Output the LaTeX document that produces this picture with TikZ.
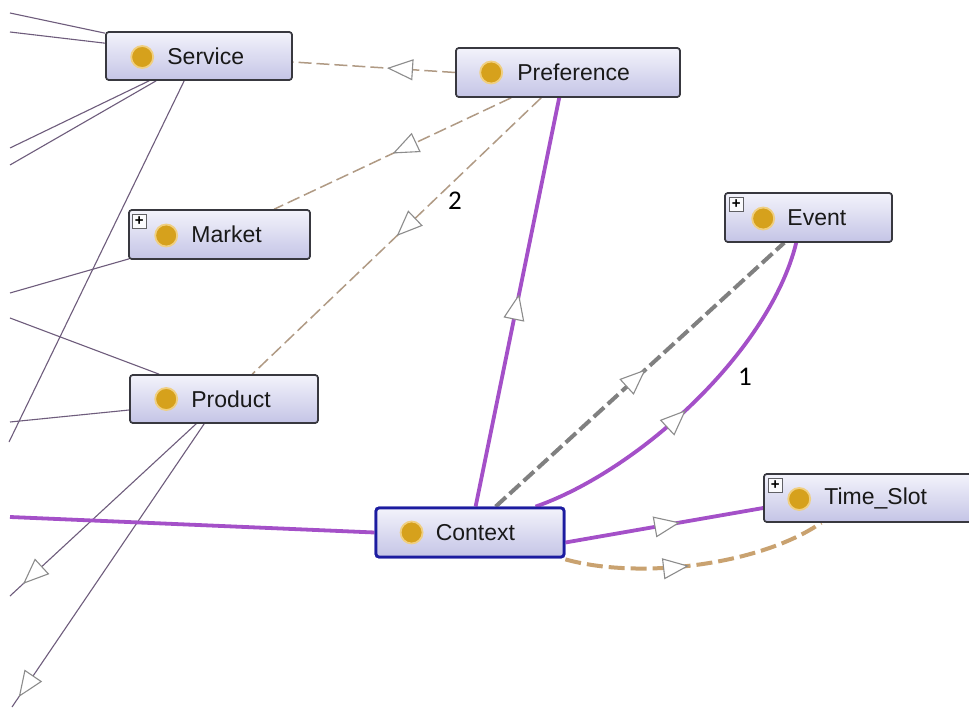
\documentclass[tikz,border=0pt]{standalone}
\usepackage{fontspec}
\setmainfont{Liberation Sans}
\newfontfamily\numfont{Carlito}
\usetikzlibrary{arrows.meta,decorations.markings}

\definecolor{boxline}{HTML}{38383F}
\definecolor{boxtop}{HTML}{F3F3FB}
\definecolor{boxbot}{HTML}{C4C4E6}
\definecolor{ctxline}{HTML}{1C1CA0}
\definecolor{dotfill}{HTML}{D6A11C}
\definecolor{dotring}{HTML}{F0CF80}
\definecolor{thinline}{HTML}{6E5C7C}
\definecolor{purpleline}{HTML}{A450C8}
\definecolor{tanthin}{HTML}{B09A84}
\definecolor{tanthick}{HTML}{C9A270}
\definecolor{grayline}{HTML}{808080}
\definecolor{headline}{HTML}{8C8C8C}

\tikzset{
  openhead/.tip={Triangle[length=26pt,width=21pt,fill=white,color=headline,line width=1.1pt]},
  cls/.style={rectangle, rounded corners=3pt, draw=boxline, line width=1.6pt,
    top color=boxtop, bottom color=boxbot, inner sep=0pt},
  ctx/.style={cls, draw=ctxline, line width=2.8pt},
  dot/.style={circle, fill=dotfill, draw=dotring, line width=1.8pt, minimum size=22pt, inner sep=0pt},
  clsname/.style={anchor=west, inner sep=0pt, font=\fontsize{23}{27}\selectfont, text=black!90},
  plusbox/.style={rectangle, draw=boxline!80, fill=white!92!boxbot, line width=0.8pt,
    minimum size=14pt, inner sep=0pt, font=\bfseries\fontsize{15}{15}\selectfont},
  midhead/.style={postaction={decorate},
    decoration={markings, mark=at position #1 with {\arrow{openhead}}}},
  linkthin/.style={draw=thinline, line width=1.1pt},
  linkpurple/.style={draw=purpleline, line width=3.8pt},
  linktan/.style={draw=tanthin, line width=1.5pt, dash pattern=on 13pt off 5pt},
  linkgray/.style={draw=grayline, line width=4pt, dash pattern=on 14pt off 5pt},
  linktanthick/.style={draw=tanthick, line width=4pt, dash pattern=on 16pt off 6pt},
  numlabel/.style={inner sep=0pt, font=\numfont\fontsize{27}{30}\selectfont}
}

\begin{document}
\begin{tikzpicture}[x=1pt,y=-1pt]
\clip (0,0) rectangle (969,708);
\fill[white] (0,0) rectangle (969,708);

% class boxes (placed first so the connectors can use their anchors)
\path
  (199,56)    node[cls, minimum width=186pt, minimum height=48pt] (service) {}
  (568,72.5)  node[cls, minimum width=224pt, minimum height=49pt] (pref) {}
  (219.5,234.5) node[cls, minimum width=181pt, minimum height=49pt] (market) {}
  (808.5,217.5) node[cls, minimum width=167pt, minimum height=49pt] (event) {}
  (224,399)   node[cls, minimum width=188pt, minimum height=48pt] (product) {}
  (470,532.5) node[ctx, minimum width=188pt, minimum height=49pt] (context) {}
  (870,498)   node[cls, minimum width=212pt, minimum height=48pt] (timeslot) {};

% loose ends of the links that leave the view
\coordinate (l1) at (10,13);
\coordinate (l2) at (10,32);
\coordinate (l3) at (10,148);
\coordinate (l4) at (10,165);
\coordinate (l5) at (9,442);
\coordinate (l6) at (10,293);
\coordinate (l7) at (10,318);
\coordinate (l8) at (10,422);
\coordinate (l9) at (10,596);
\coordinate (l10) at (12,707);
\coordinate (l11) at (10,517);

% thin links on the left
\draw[linkthin] (l1) -- ([yshift=-2pt]service.north west);
\draw[linkthin] (l2) -- ([yshift=-12pt]service.north west);
\draw[linkthin] (l3) -- ([xshift=44pt]service.south west);
\draw[linkthin] (l4) -- ([xshift=51pt]service.south west);
\draw[linkthin] ([xshift=79pt]service.south west) -- (l5);
\draw[linkthin] (l6) -- ([xshift=1pt,yshift=1pt]market.south west);
\draw[linkthin] (l7) -- ([xshift=30pt]product.north west);
\draw[linkthin] (l8) -- ([yshift=-11pt]product.west);
\draw[linkthin, midhead=0.93] ([xshift=67pt]product.south west) -- (l9);
\draw[linkthin, midhead=0.965] ([xshift=75pt]product.south west) -- (l10);

% dashed links from Preference
\draw[linktan, midhead=0.42] (pref.west) -- ([yshift=-6pt]service.east);
\draw[linktan, midhead=0.5] ([xshift=56pt]pref.south west) -- ([xshift=146pt]market.north west);
\draw[linktan, midhead=0.5] ([xshift=86pt]pref.south west) -- ([xshift=123pt]product.north west);

% links from Context
\draw[linkpurple] (l11) -- (context.west);
\draw[linkpurple, midhead=0.52] ([xshift=101pt]context.north west) -- ([xshift=104pt]pref.south west);
\draw[linkgray, midhead=0.52] ([xshift=121pt]context.north west) -- ([xshift=60pt]event.south west);
\draw[linkpurple, midhead=0.47] ([xshift=161pt]context.north west)
  .. controls (640,470) and (770,350) .. ([xshift=72pt]event.south west);
\draw[linkpurple, midhead=0.58] ([yshift=-10pt]context.east) -- ([yshift=-10pt]timeslot.west);
\draw[linktanthick, midhead=0.47] ([yshift=-1pt]context.south east)
  .. controls (640,580) and (760,565) .. ([xshift=58pt]timeslot.south west);

% redraw boxes on top of the links
\path
  (199,56)    node[cls, minimum width=186pt, minimum height=48pt] {}
  (568,72.5)  node[cls, minimum width=224pt, minimum height=49pt] {}
  (219.5,234.5) node[cls, minimum width=181pt, minimum height=49pt] {}
  (808.5,217.5) node[cls, minimum width=167pt, minimum height=49pt] {}
  (224,399)   node[cls, minimum width=188pt, minimum height=48pt] {}
  (470,532.5) node[ctx, minimum width=188pt, minimum height=49pt] {}
  (870,498)   node[cls, minimum width=212pt, minimum height=48pt] {};

% class icons and names
\node[dot] (service-dot) at ([xshift=37pt,yshift=-1pt]service.west) {};
\node[clsname] (service-name) at ([xshift=62pt]service.west) {Service};
\node[dot] (pref-dot) at ([xshift=36pt]pref.west) {};
\node[clsname] (pref-name) at ([xshift=62pt]pref.west) {Preference};
\node[dot] (market-dot) at ([xshift=38pt,yshift=-1pt]market.west) {};
\node[clsname] (market-name) at ([xshift=63pt]market.west) {Market};
\node[plusbox] (market-plus) at ([xshift=11pt,yshift=-12pt]market.north west) {+};
\node[dot] (event-dot) at ([xshift=39pt,yshift=-1pt]event.west) {};
\node[clsname] (event-name) at ([xshift=63pt]event.west) {Event};
\node[plusbox] (event-plus) at ([xshift=12pt,yshift=-12pt]event.north west) {+};
\node[dot] (product-dot) at ([xshift=37pt]product.west) {};
\node[clsname] (product-name) at ([xshift=62pt]product.west) {Product};
\node[dot] (context-dot) at ([xshift=37pt]context.west) {};
\node[clsname] (context-name) at ([xshift=61pt]context.west) {Context};
\node[dot] (timeslot-dot) at ([xshift=36pt,yshift=-1pt]timeslot.west) {};
\node[clsname] (timeslot-name) at ([xshift=61pt]timeslot.west) {Time\_Slot};
\node[plusbox] (timeslot-plus) at ([xshift=12pt,yshift=-12pt]timeslot.north west) {+};

% edge numbers
\node[numlabel] (num1) at (745,377) {1};
\node[numlabel] (num2) at (455,201) {2};
\end{tikzpicture}
\end{document}
